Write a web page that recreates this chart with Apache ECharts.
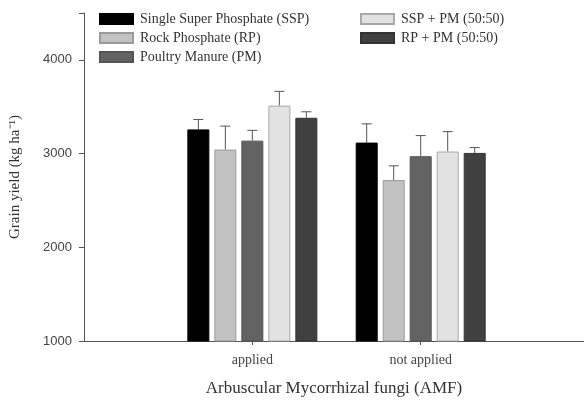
<!DOCTYPE html>
<html>
<head>
<meta charset="utf-8">
<script src="https://cdn.jsdelivr.net/npm/echarts@6/dist/echarts.min.js"></script>
<style>
html,body{margin:0;padding:0;background:#fff;}
#chart{width:584px;height:402px;}
</style>
</head>
<body>
<div id="chart"></div>
<script>
// Data
const categories = ['applied', 'not applied'];
const categoryPos = [1, 2];
const seriesNames = ['Single Super Phosphate (SSP)', 'Rock Phosphate (RP)', 'Poultry Manure (PM)', 'SSP + PM (50:50)', 'RP + PM (50:50)'];
const ssp      = [3258, 3117];
const rp       = [3043, 2717];
const pm       = [3138, 2972];
const ssp_pm   = [3512, 3022];
const rp_pm    = [3382, 3007];
const sspErr    = [106, 200];
const rpErr     = [250, 152];
const pmErr     = [110, 220];
const sspPmErr  = [152, 212];
const rpPmErr   = [64, 57];
const yTicks = [1000, 2000, 3000, 4000];

const values = [ssp, rp, pm, ssp_pm, rp_pm];
const errors = [sspErr, rpErr, pmErr, sspPmErr, rpPmErr];
const colors = ['#000000', '#c2c2c2', '#636363', '#e2e2e2', '#404040'];
const borders = ['#000000', '#9a9a9a', '#555555', '#a8a8a8', '#333333'];

const BAR_W = 22, GAP = 5;
const serif = 'Liberation Serif, Times New Roman, serif';

const series = [];
values.forEach((v, i) => {
  series.push({
    name: seriesNames[i],
    type: 'bar',
    data: v.map((val, k) => [categoryPos[k], val]),
    barWidth: BAR_W,
    barGap: (GAP / BAR_W * 100) + '%',
    itemStyle: { color: colors[i], borderColor: borders[i], borderWidth: 1 },
    z: 2
  });
});
values.forEach((v, i) => {
  const data = v.map((val, k) => [categoryPos[k], val, errors[i][k]]);
  series.push({
    type: 'custom',
    name: 'err' + i,
    z: 1,
    renderItem: function (params, api) {
      const xv = api.value(0), val = api.value(1), e = api.value(2);
      const base = api.coord([xv, val]);
      const top = api.coord([xv, val + e]);
      const offset = (i - 2) * (BAR_W + GAP);
      const x = base[0] + offset;
      const cap = 5;
      return {
        type: 'group',
        children: [
          { type: 'line', shape: { x1: x, y1: base[1], x2: x, y2: top[1] }, style: { stroke: '#555', lineWidth: 1 } },
          { type: 'line', shape: { x1: x - cap, y1: top[1], x2: x + cap, y2: top[1] }, style: { stroke: '#555', lineWidth: 1 } }
        ]
      };
    },
    data: data
  });
});

const legendCommon = {
  orient: 'vertical', top: 12, padding: 0,
  icon: 'rect',
  itemWidth: 33, itemHeight: 10, itemGap: 5,
  textStyle: { fontFamily: serif, fontSize: 14, color: '#333', padding: [0, 0, 0, 2] },
  selectedMode: false
};

const chart = echarts.init(document.getElementById('chart'));
chart.setOption({
  animation: false,
  backgroundColor: '#fff',
  legend: [
    Object.assign({}, legendCommon, { data: seriesNames.slice(0, 3), left: 99 }),
    Object.assign({}, legendCommon, { data: seriesNames.slice(3), left: 360 })
  ],
  grid: { left: 82, right: 0, top: 13, bottom: 59, containLabel: false },
  xAxis: {
    type: 'value',
    min: 0, max: 2.97,
    name: 'Arbuscular Mycorrhizal fungi (AMF)',
    nameLocation: 'middle',
    nameGap: 39,
    nameTextStyle: { fontFamily: serif, fontSize: 17, color: '#333' },
    axisLine: { show: true, lineStyle: { color: '#555', width: 1 } },
    axisTick: { show: true, length: 4, lineStyle: { color: '#555' }, customValues: categoryPos },
    axisLabel: {
      fontFamily: serif, fontSize: 14, color: '#444', margin: 12,
      customValues: categoryPos,
      formatter: function (v) { const k = categoryPos.indexOf(v); return k >= 0 ? categories[k] : ''; }
    },
    splitLine: { show: false }
  },
  yAxis: {
    type: 'value',
    min: 1000, max: 4500, interval: 1000,
    name: 'Grain yield (kg ha\u207B\u00B9)',
    nameLocation: 'middle',
    nameGap: 61,
    nameRotate: 90,
    nameTextStyle: { fontFamily: serif, fontSize: 15, color: '#333' },
    axisLine: { show: true, lineStyle: { color: '#555', width: 1 } },
    axisTick: { show: true, length: 5, lineStyle: { color: '#555' } },
    axisLabel: {
      fontFamily: 'Liberation Sans, Arial, sans-serif', fontSize: 13, color: '#444', margin: 12,
      formatter: function (v) { return yTicks.indexOf(v) >= 0 ? String(v) : ''; }
    },
    splitLine: { show: false }
  },
  series: series
});
</script>
</body>
</html>
